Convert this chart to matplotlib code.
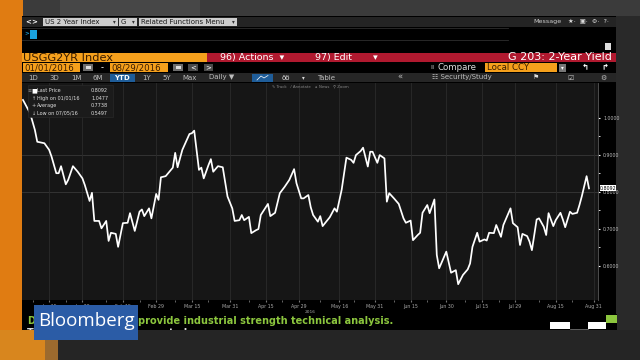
import matplotlib
matplotlib.use("Agg")
import matplotlib.pyplot as plt
import matplotlib.dates as mdates
from matplotlib.patches import Rectangle
import pandas as pd

# USGG2YR yield (days counted from 2016-01-01)
days = [3, 6, 8, 9, 12, 14, 15, 17, 18, 19, 21, 22, 24, 26, 28, 29, 31, 32, 33, 35,
        36, 38, 39, 40, 42, 43, 45, 47, 48, 50, 52, 53, 54, 56, 57, 59, 60, 61, 63, 66,
        67, 68, 70, 73, 74, 75, 77, 78, 79, 81, 82, 83, 85, 87, 89, 91, 92, 94, 95, 96,
        98, 99, 101, 102, 103, 106, 107, 109, 111, 113, 115, 117, 118, 120, 121, 123, 124, 125, 127, 128,
        129, 131, 132, 134, 135, 137, 139, 141, 142, 143, 145, 146, 148, 149, 150, 152, 153, 155, 156, 157,
        159, 161, 163, 164, 166, 167, 169, 170, 171, 173, 174, 176, 177, 178, 181, 183, 185, 186, 188, 190,
        191, 192, 194, 195, 197, 198, 199, 201, 202, 204, 205, 208, 209, 211, 212, 213, 215, 216, 217, 219,
        220, 222, 223, 224, 226, 227, 229, 230, 231, 233, 234, 236, 237, 238, 240, 241]
values = [1.048, 1.012, 0.967, 0.935, 0.931, 0.913, 0.895, 0.850, 0.850, 0.869, 0.820, 0.832, 0.869, 0.854, 0.836, 0.818, 0.775, 0.797, 0.721, 0.721,
          0.701, 0.721, 0.667, 0.689, 0.686, 0.651, 0.715, 0.716, 0.742, 0.694, 0.746, 0.752, 0.734, 0.755, 0.728, 0.794, 0.778, 0.839, 0.842, 0.865,
          0.905, 0.866, 0.913, 0.956, 0.958, 0.965, 0.859, 0.865, 0.836, 0.872, 0.888, 0.854, 0.869, 0.866, 0.787, 0.755, 0.721, 0.723, 0.737, 0.723,
          0.732, 0.688, 0.696, 0.699, 0.737, 0.767, 0.734, 0.743, 0.796, 0.813, 0.832, 0.861, 0.823, 0.782, 0.782, 0.791, 0.758, 0.737, 0.719, 0.734,
          0.707, 0.723, 0.731, 0.755, 0.746, 0.805, 0.892, 0.886, 0.878, 0.899, 0.910, 0.919, 0.868, 0.908, 0.908, 0.878, 0.899, 0.890, 0.773, 0.796,
          0.782, 0.767, 0.728, 0.716, 0.722, 0.669, 0.683, 0.689, 0.743, 0.764, 0.742, 0.779, 0.629, 0.593, 0.638, 0.581, 0.588, 0.550, 0.575, 0.590,
          0.606, 0.651, 0.689, 0.665, 0.671, 0.668, 0.689, 0.688, 0.710, 0.678, 0.710, 0.755, 0.715, 0.704, 0.656, 0.686, 0.680, 0.665, 0.642, 0.725,
          0.728, 0.705, 0.683, 0.742, 0.707, 0.723, 0.743, 0.725, 0.704, 0.746, 0.740, 0.743, 0.764, 0.788, 0.842, 0.809]

tick_dates = ["2016-01-15", "2016-01-29", "2016-02-15", "2016-02-29", "2016-03-15", "2016-03-31",
              "2016-04-15", "2016-04-29", "2016-05-16", "2016-05-31", "2016-06-15", "2016-06-30",
              "2016-07-15", "2016-07-29", "2016-08-15", "2016-08-31"]
tick_labels = ["Jan 15", "Jan 29", "Feb 15", "Feb 29", "Mar 15", "Mar 31", "Apr 15", "Apr 29",
               "May 16", "May 31", "Jun 15", "Jun 30", "Jul 15", "Jul 29", "Aug 15", "Aug 31"]
y_ticks = [0.6, 0.7, 0.8, 0.9, 1.0]
y_grid = [0.8, 0.9]
last_price = 0.8092

legend_icons = ["\u25a0", "\u2191", "+", "\u2193"]
legend_names = ["Last Price", "High on 01/01/16", "Average", "Low on 07/05/16"]
legend_values = ["0.8092", "1.0477", "0.7738", "0.5497"]

periods = ["1D", "3D", "1M", "6M", "YTD", "1Y", "5Y", "Max"]
period_x = [33, 54, 76, 98, 122, 147, 167, 190]

ORANGE = "#f5a01c"
RED = "#b0192f"
GREEN = "#8cc63e"

fig = plt.figure(figsize=(6.4, 3.6), dpi=100)
W, H = 640, 360


def px_axes(x0, y0, x1, y1, z):
    a = fig.add_axes([x0 / W, 1 - y1 / H, (x1 - x0) / W, (y1 - y0) / H], zorder=z)
    return a


bg = px_axes(0, 0, W, H, 1)
bg.set_xlim(0, W)
bg.set_ylim(H, 0)
bg.axis("off")


def box(a, x0, y0, x1, y1, color, **kw):
    a.add_patch(Rectangle((x0, y0), x1 - x0, y1 - y0, facecolor=color,
                          edgecolor=kw.pop("ec", "none"), lw=kw.pop("lw", 0), **kw))


def txt(a, x, y, s, size=5, color="white", ha="left", **kw):
    a.text(x, y, s, fontsize=size, color=color, ha=ha, va="center", **kw)


# surroundings
box(bg, 0, 0, W, H, "#292929")
box(bg, 0, 0, W, 16, "#3b3b3b")
box(bg, 60, 0, 200, 16, "#474747")
box(bg, 0, 330, W, H, "#252525")
box(bg, 0, 0, 23, H, "#e07c12")
box(bg, 0, 330, 45, H, "#d8861e")
box(bg, 45, 330, 58, H, "#9c6a2e")

# terminal window
box(bg, 22, 16, 616, 330, "black")
box(bg, 22, 17, 616, 27, "#242424")
txt(bg, 25, 21.8, "<", 5, "white", weight="bold")
txt(bg, 31, 21.8, ">", 5, "white", weight="bold")
for x0, x1, label in [(43, 118, "US 2 Year Index"), (119, 137, "G"), (139, 237, "Related Functions Menu")]:
    box(bg, x0, 18, x1, 26, "#cdcdcd")
    txt(bg, x0 + 2, 22, label, 5, "#1a1a1a")
    txt(bg, x1 - 5, 22, "\u25be", 4, "#333333")
txt(bg, 533, 21.5, "Message", 4.6, "#cccccc")
txt(bg, 568, 21.5, "\u2605\u00b7  \u25a3\u00b7  \u2699\u00b7  ?\u00b7", 4.6, "#dddddd")

bg.plot([22, 508], [28.3, 28.3], color="#2e2e2e", lw=0.6)
bg.plot([22, 508], [39.5, 39.5], color="#2e2e2e", lw=0.6)
txt(bg, 24, 34, ">", 4, "#1aa3e0", weight="bold")
box(bg, 30, 29.5, 36.5, 39, "#1aa3e0")
box(bg, 605, 43, 611, 50, "#dddddd")

# title bar
box(bg, 22, 52.7, 207, 61.8, ORANGE)
box(bg, 207, 52.7, 616, 61.8, RED)
txt(bg, 23, 57.6, "USGG2YR Index", 8.2, "#3a1c00")
txt(bg, 220, 57.3, "96) Actions  \u25be", 6.8, "white")
txt(bg, 315, 57.3, "97) Edit       \u25be", 6.8, "white")
txt(bg, 612, 57.3, "G 203: 2-Year Yield", 8.0, "white", ha="right")

# date row
for x0, x1, label in [(23, 80, "01/01/2016"), (110, 168, "08/29/2016")]:
    box(bg, x0, 63.3, x1, 71.7, ORANGE)
    txt(bg, x0 + 1, 67.6, label, 6.2, "#3a1c00")
for x0, x1 in [(83, 93), (173, 183)]:
    box(bg, x0, 64, x1, 71, "#6e6e6e")
    box(bg, x0 + 2.5, 66, x1 - 2.5, 69, "#dddddd")
txt(bg, 101, 67.5, "-", 6, "white")
for x0, x1, s in [(188, 198, "<"), (204, 213, ">")]:
    box(bg, x0, 64, x1, 71, "#4a4a4a")
    txt(bg, (x0 + x1) / 2, 67.5, s, 5, "white", ha="center")
txt(bg, 430, 67.6, "\u2161", 4.5, "#bbbbbb")
txt(bg, 437, 67.6, "Compare", 6.2, "#dddddd")
box(bg, 485, 63.3, 557, 71.7, ORANGE)
txt(bg, 487, 67.6, "Local CCY", 6.2, "#3a1c00")
box(bg, 559, 63.5, 566, 71.5, "#777777")
txt(bg, 562.5, 67.5, "\u25be", 4, "white", ha="center")
txt(bg, 585, 67.5, "\u21b0", 6, "white", ha="center", weight="bold")
txt(bg, 605, 67.5, "\u21b1", 6, "white", ha="center", weight="bold")

# period row
box(bg, 22, 73, 616, 82, "#262626")
box(bg, 110, 73.5, 135, 81.5, "#1f5d99")
for x, p in zip(period_x, periods):
    txt(bg, x, 77.5, p, 5, "white" if p == "YTD" else "#bdbdbd", ha="center",
        weight="bold" if p == "YTD" else "normal")
txt(bg, 209, 77.5, "Daily \u25bc", 5, "#bdbdbd")
box(bg, 252, 73.5, 273, 81.5, "#1f5d99")
bg.plot([257, 261, 264, 268], [80, 76, 78, 75.5], color="white", lw=0.5)
txt(bg, 282, 77.5, "\u00f6\u00f6", 5, "#dddddd")
txt(bg, 302, 77.5, "\u25be", 4, "#dddddd")
txt(bg, 317, 77.5, "Table", 5, "#bdbdbd")
txt(bg, 397, 77.5, "\u00ab", 6, "#bdbdbd")
txt(bg, 432, 77.5, "\u2637 Security/Study", 5, "#bdbdbd")
txt(bg, 533, 77.5, "\u2691", 5, "#dddddd")
txt(bg, 567, 77.5, "\u2611", 5, "#bdbdbd")
txt(bg, 600, 77.5, "\u2699", 5, "#bdbdbd")

# chart
dates = pd.Timestamp("2016-01-01") + pd.to_timedelta(days, unit="D")
ax = px_axes(22, 83, 598, 300, 2)
ax.set_facecolor("#161616")
ax.plot(dates, values, color="white", lw=1.25)
ax.set_xlim(pd.Timestamp("2016-01-03 14:00"), pd.Timestamp("2016-09-01 19:00"))
ax.set_ylim(0.5073, 1.0938)

ax.set_xticks(pd.to_datetime(tick_dates))
ax.set_xticklabels(tick_labels)
ax.xaxis.set_minor_locator(mdates.DayLocator(bymonthday=[8, 22]))
ax.yaxis.tick_right()
ax.set_yticks(y_ticks)
ax.set_yticklabels([f"{v:.4f}" for v in y_ticks])
ax.set_yticks([v + 0.05 for v in y_ticks[:-1]], minor=True)
ax.tick_params(axis="x", which="both", length=1.5, color="#777777", labelsize=3.4,
               labelcolor="#a8a8a8", pad=1.5)
ax.tick_params(axis="y", which="both", length=1.6, color="white", labelsize=3.4,
               labelcolor="#bbbbbb", pad=2)
ax.grid(axis="x", color="#2b2b2b", lw=0.6)
for g in y_grid:
    ax.axhline(g, color="#383838", lw=0.6, zorder=0)
for s in ["top", "left", "bottom"]:
    ax.spines[s].set_visible(False)
ax.spines["right"].set_color("#5a5a5a")
ax.spines["right"].set_linewidth(0.6)

# overlay: legend, price tag, logo, ticker
ov = px_axes(0, 0, W, H, 3)
ov.set_xlim(0, W)
ov.set_ylim(H, 0)
ov.axis("off")
ov.patch.set_alpha(0)

txt(ov, 272, 86.6, "\u270e Track   / Annotate   \u2055 News   \u26b2 Zoom", 2.8, "#888888")
box(ov, 28, 85, 113, 117, "#1b1b1b", ec="#2c2c2c", lw=0.4)
txt(ov, 27, 91, "\u2261", 3.5, "#999999")
for i, (ic, name, val) in enumerate(zip(legend_icons, legend_names, legend_values)):
    y = 91 + i * 7.4
    txt(ov, 31.5, y, ic, 3.6 if i else 4.4, "white" if i == 0 else "#cccccc")
    txt(ov, 37.3, y, name, 3.5, "#e0e0e0")
    txt(ov, 91, y, val, 3.5, "#e0e0e0")

y_tag = 117.7 + (1.0 - last_price) * 370
box(ov, 600, y_tag - 2.9, 616, y_tag + 2.9, "white")
txt(ov, 608, y_tag, f"{last_price:.4f}", 3.4, "black", ha="center")
txt(ov, 310, 311.8, "2016", 3.2, "#a8a8a8", ha="center")

# ticker row (its second line is cut off by the row edge)
tk = px_axes(22, 313.5, 617, 330, 4)
tk.set_xlim(22, 617)
tk.set_ylim(330, 313.5)
tk.set_facecolor("black")
tk.set_xticks([])
tk.set_yticks([])
for s in tk.spines.values():
    s.set_visible(False)
tk.text(27, 321.5, "D", fontsize=7, color=GREEN, weight="bold", va="center")
tk.text(138, 321.5, "provide industrial strength technical analysis.", fontsize=7,
        color=GREEN, weight="bold", va="center")
tk.text(27, 333.5, "T", fontsize=7, color="#dddddd", weight="bold", va="center", clip_on=True)
tk.text(152, 333.5, "on today", fontsize=7, color="#dddddd", weight="bold", va="center",
        clip_on=True)
box(tk, 606, 315, 616.5, 323, GREEN)
box(tk, 550, 322, 570, 329.3, "white")
box(tk, 588, 322, 606, 329.3, "white")
tk.plot([570, 588], [329, 329], color="#888888", lw=0.5)

lg = px_axes(0, 0, W, H, 5)
lg.set_xlim(0, W)
lg.set_ylim(H, 0)
lg.axis("off")
lg.patch.set_alpha(0)
box(lg, 34, 305, 138, 340, "#2b5ca6")
lg.text(86, 321.5, "Bloomberg", fontsize=13.5, color="white", ha="center", va="center",
        family="Open Sans")

fig.savefig("out.png", dpi=100, facecolor=fig.get_facecolor())
